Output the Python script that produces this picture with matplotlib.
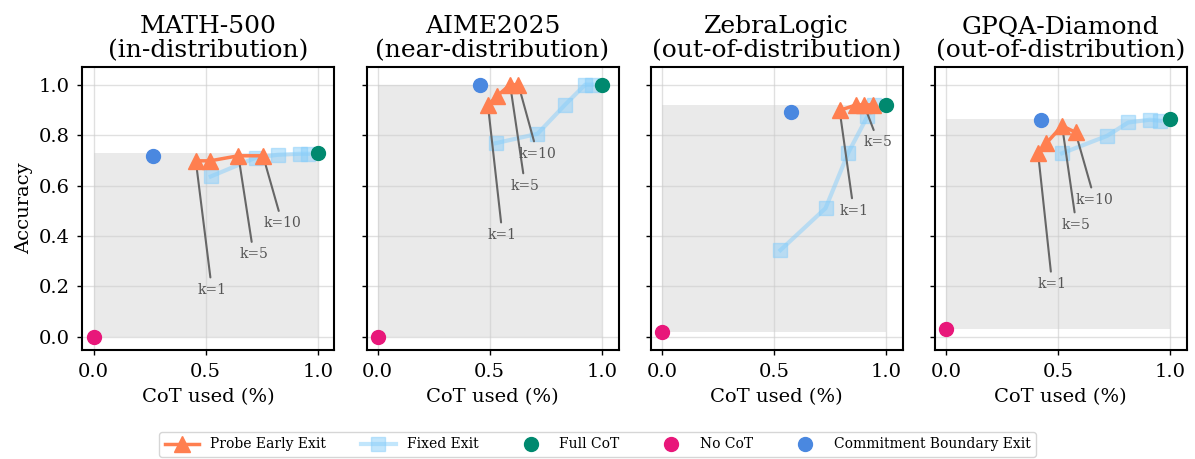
import numpy as np
import matplotlib
matplotlib.use("Agg")
import matplotlib.pyplot as plt
from matplotlib.lines import Line2D

plt.rcParams['font.family'] = 'DejaVu Serif'

# datos
titles = ["MATH-500\n(in-distribution)", "AIME2025\n(near-distribution)",
          "ZebraLogic\n(out-of-distribution)", "GPQA-Diamond\n(out-of-distribution)"]

probe_x = [[0.456, 0.52, 0.646, 0.756],
           [0.492, 0.533, 0.591, 0.628],
           [0.794, 0.868, 0.903, 0.943],
           [0.412, 0.449, 0.519, 0.579]]
probe_y = [[0.698, 0.698, 0.718, 0.718],
           [0.919, 0.955, 1.0, 1.0],
           [0.898, 0.92, 0.92, 0.92],
           [0.728, 0.768, 0.837, 0.811]]
probe_k = [1, 2, 5, 10]

fixed_x = [[0.523, 0.725, 0.822, 0.919, 0.957],
           [0.527, 0.713, 0.836, 0.926, 0.958],
           [0.53, 0.731, 0.833, 0.918, 0.948],
           [0.519, 0.72, 0.814, 0.91, 0.957]]
fixed_y = [[0.636, 0.711, 0.722, 0.726, 0.726],
           [0.768, 0.805, 0.92, 1.0, 1.0],
           [0.344, 0.51, 0.731, 0.874, 0.92],
           [0.728, 0.797, 0.85, 0.861, 0.857]]

full_cot = [0.73, 1.0, 0.918, 0.864]
no_cot = [0.0, 0.0, 0.02, 0.03]
commit_x = [0.266, 0.457, 0.577, 0.427]
commit_y = [0.719, 1.0, 0.891, 0.861]

# posicion de las etiquetas k=... (indice del punto, x texto, y texto)
labels = [[(0, 0.528, 0.186), (2, 0.714, 0.327), (3, 0.842, 0.45)],
          [(0, 0.557, 0.404), (2, 0.658, 0.599), (3, 0.713, 0.726)],
          [(0, 0.857, 0.50), (2, 0.967, 0.771)],
          [(0, 0.475, 0.209), (2, 0.583, 0.444), (3, 0.665, 0.543)]]

c_probe = '#FF7F50'
c_fixed = '#87CEFA'
c_full = '#00896F'
c_no = '#E8177A'
c_commit = '#4A88E0'

fig, axes = plt.subplots(1, 4, figsize=(11.95, 4.59), dpi=100, sharey=True)
plt.subplots_adjust(left=0.069, right=0.993, top=0.854, bottom=0.237, wspace=0.127)

for i, ax in enumerate(axes):
    ax.fill_between([0, 1], no_cot[i], full_cot[i], color='gray', alpha=0.16, lw=0, zorder=0)
    ax.plot(fixed_x[i], fixed_y[i], color=c_fixed, marker='s', ms=10, lw=3, alpha=0.5, zorder=2)
    ax.plot(probe_x[i], probe_y[i], color=c_probe, marker='^', ms=11, lw=2.5, zorder=4)
    ax.plot([1], [full_cot[i]], 'o', color=c_full, ms=10, zorder=5)
    ax.plot([0], [no_cot[i]], 'o', color=c_no, ms=10, zorder=5)
    ax.plot([commit_x[i]], [commit_y[i]], 'o', color=c_commit, ms=10, zorder=5)

    for idx, tx, ty in labels[i]:
        ax.annotate(f'k={probe_k[idx]}', xy=(probe_x[i][idx], probe_y[i][idx]),
                    xytext=(tx, ty), ha='center', va='center', fontsize=10, color='#555555',
                    arrowprops=dict(arrowstyle='-', color='#666666', lw=1.5, shrinkB=6),
                    zorder=3)

    ax.set_title(titles[i], fontsize=18, linespacing=1.05, pad=7)
    ax.set_xlim(-0.05, 1.075)
    ax.set_ylim(-0.053, 1.07)
    ax.set_xticks([0.0, 0.5, 1.0])
    ax.set_yticks([0.0, 0.2, 0.4, 0.6, 0.8, 1.0])
    ax.tick_params(labelsize=14, length=3.5, width=1, pad=6)
    ax.grid(True, color='#cccccc', alpha=0.6, lw=1)
    ax.set_axisbelow(True)
    ax.set_xlabel('CoT used (%)', fontsize=14, labelpad=5)
    for s in ax.spines.values():
        s.set_linewidth(1.5)

axes[0].set_ylabel('Accuracy', fontsize=14, labelpad=4)

handles = [
    Line2D([], [], color=c_probe, marker='^', ms=11, lw=2.5),
    Line2D([], [], color=c_fixed, marker='s', ms=10, lw=3, alpha=0.5),
    Line2D([], [], color=c_full, marker='o', ms=10, lw=0),
    Line2D([], [], color=c_no, marker='o', ms=10, lw=0),
    Line2D([], [], color=c_commit, marker='o', ms=10, lw=0),
]
names = ['Probe Early Exit', 'Fixed Exit', 'Full CoT', 'No CoT', 'Commitment Boundary Exit']
fig.legend(handles, names, loc='lower center', bbox_to_anchor=(0.5, 0.0), ncol=5,
           fontsize=10, frameon=True, borderpad=0.4, borderaxespad=0.15,
           handlelength=2.5, columnspacing=2.5)

plt.savefig('out.png', dpi=100)
